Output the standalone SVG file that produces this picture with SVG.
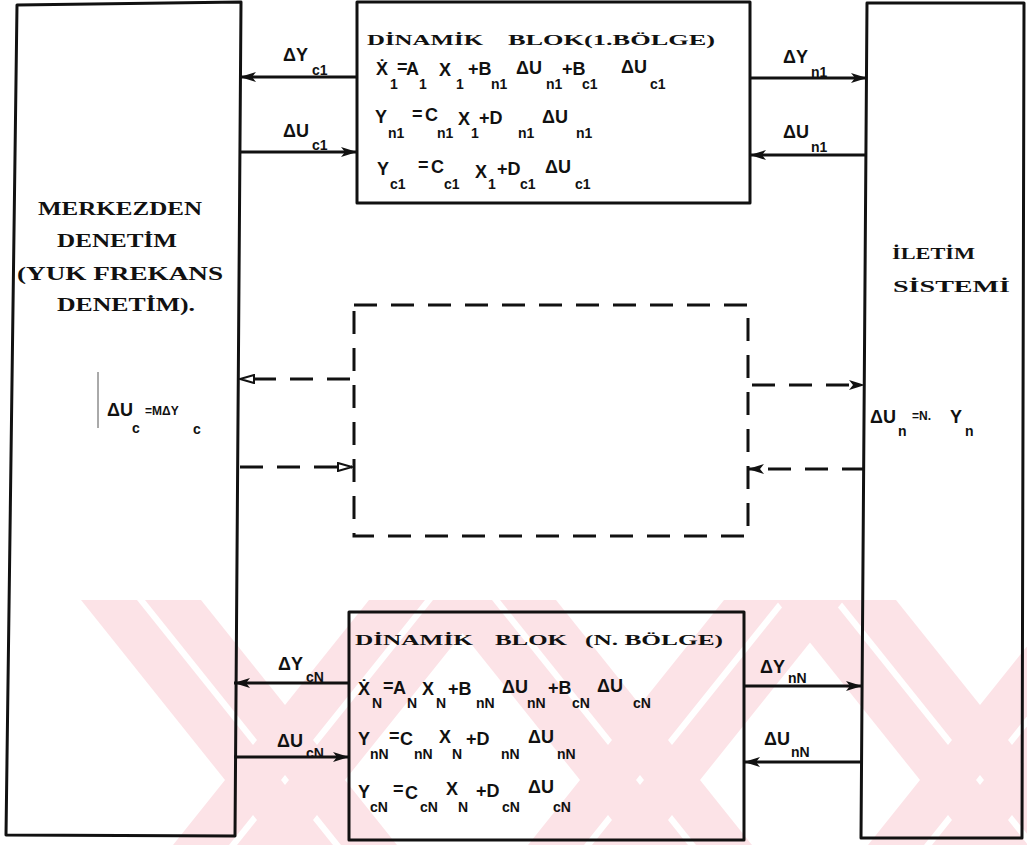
<svg xmlns="http://www.w3.org/2000/svg" width="1027" height="845" viewBox="0 0 1027 845">
<style>
.box{fill:none;stroke:#111;stroke-width:3;stroke-linejoin:round}
.ser{font-family:"Liberation Serif",serif;font-weight:bold;fill:#111}
.eq{font-family:"Liberation Sans",sans-serif;font-weight:bold;fill:#111;font-size:18px}
.sb{font-size:14px}
.ln{stroke:#111;stroke-width:3;fill:none}
.dash{stroke-dasharray:23 14}
.wm polygon{fill:#fce3e7}
</style>
<defs>
<marker id="hf" viewBox="0 0 16 10" refX="16" refY="5" markerWidth="16" markerHeight="10" markerUnits="userSpaceOnUse" orient="auto"><path d="M0,0 L16,5 L0,10 L4,5 Z" fill="#111"/></marker>
<marker id="ho" viewBox="0 0 16 10" refX="15" refY="5" markerWidth="16" markerHeight="10" markerUnits="userSpaceOnUse" orient="auto"><path d="M1,1 L15,5 L1,9 Z" fill="#fff" stroke="#111" stroke-width="2"/></marker>
</defs>
<rect width="1027" height="845" fill="#fff"/>
<g id="watermark" class="wm">
<polygon points="81,600 137,600 333,845 277,845"/>
<polygon points="145,600 201,600 397,845 341,845"/>
<polygon points="433,600 489,600 293,845 237,845"/>
<polygon points="369,600 425,600 229,845 173,845"/>
<polygon points="436,600 492,600 688,845 632,845"/>
<polygon points="500,600 556,600 752,845 696,845"/>
<polygon points="788,600 844,600 648,845 592,845"/>
<polygon points="724,600 780,600 584,845 528,845"/>
<polygon points="776,600 832,600 1028,845 972,845"/>
<polygon points="840,600 896,600 1092,845 1036,845"/>
<polygon points="1128,600 1184,600 988,845 932,845"/>
<polygon points="1064,600 1120,600 924,845 868,845"/>
</g>
<g id="left-block">
<polygon class="box" points="17,5 241,2 235,836 6,835"/>
<text class="ser" x="38" y="215" font-size="19" textLength="164" lengthAdjust="spacingAndGlyphs">MERKEZDEN</text>
<text class="ser" x="57" y="247" font-size="19" textLength="120" lengthAdjust="spacingAndGlyphs">DENETİM</text>
<text class="ser" x="17" y="280" font-size="19" textLength="206" lengthAdjust="spacingAndGlyphs">(YUK FREKANS</text>
<text class="ser" x="57" y="311" font-size="19" textLength="138" lengthAdjust="spacingAndGlyphs">DENETİM).</text>
<line x1="98" y1="372" x2="98" y2="428" stroke="#555" stroke-width="1"/>
<text class="eq"><tspan x="107" y="416">ΔU</tspan><tspan class="sb" x="132" y="433">c</tspan><tspan x="145" y="415" font-size="12">=MΔY</tspan><tspan class="sb" x="193" y="434">c</tspan></text>
</g>
<g id="top-block">
<rect class="box" x="357" y="2" width="393" height="201"/>
<text class="ser" x="367" y="45" font-size="15" textLength="116" lengthAdjust="spacingAndGlyphs">DİNAMİK</text>
<text class="ser" x="508" y="45" font-size="15" textLength="207" lengthAdjust="spacingAndGlyphs">BLOK(1.BÖLGE)</text>
<text class="eq"><tspan x="376" y="75">Ẋ</tspan><tspan class="sb" x="390" y="89">1</tspan><tspan x="397" y="73">=</tspan><tspan x="406" y="75">A</tspan><tspan class="sb" x="419" y="89">1</tspan><tspan x="439" y="76">X</tspan><tspan class="sb" x="456" y="89">1</tspan><tspan x="468" y="75">+B</tspan><tspan class="sb" x="491" y="89">n1</tspan><tspan x="516" y="74">ΔU</tspan><tspan class="sb" x="546" y="89">n1</tspan><tspan x="562" y="75">+B</tspan><tspan class="sb" x="582" y="89">c1</tspan><tspan x="621" y="73">ΔU</tspan><tspan class="sb" x="650" y="89">c1</tspan></text>
<text class="eq"><tspan x="375" y="123">Y</tspan><tspan class="sb" x="388" y="138">n1</tspan><tspan x="412" y="120">=</tspan><tspan x="425" y="121">C</tspan><tspan class="sb" x="437" y="138">n1</tspan><tspan x="458" y="125">X</tspan><tspan class="sb" x="471" y="138">1</tspan><tspan x="479" y="124">+D</tspan><tspan class="sb" x="518" y="138">n1</tspan><tspan x="542" y="123">ΔU</tspan><tspan class="sb" x="576" y="138">n1</tspan></text>
<text class="eq"><tspan x="377" y="175">Y</tspan><tspan class="sb" x="390" y="189">c1</tspan><tspan x="418" y="171">=</tspan><tspan x="431" y="173">C</tspan><tspan class="sb" x="444" y="189">c1</tspan><tspan x="475" y="178">X</tspan><tspan class="sb" x="488" y="189">1</tspan><tspan x="497" y="175">+D</tspan><tspan class="sb" x="520" y="189">c1</tspan><tspan x="545" y="173">ΔU</tspan><tspan class="sb" x="575" y="189">c1</tspan></text>
</g>
<g id="right-block">
<polygon class="box" points="867,3 1024,3 1022,838 861,838"/>
<text class="ser" x="892" y="259" font-size="16" textLength="83" lengthAdjust="spacingAndGlyphs">İLETİM</text>
<text class="ser" x="893" y="292" font-size="16" textLength="117" lengthAdjust="spacingAndGlyphs">SİSTEMİ</text>
<text class="eq"><tspan x="870" y="423">ΔU</tspan><tspan class="sb" x="898" y="436">n</tspan><tspan x="912" y="420" font-size="12">=N.</tspan><tspan x="950" y="423">Y</tspan><tspan class="sb" x="965" y="436">n</tspan></text>
</g>
<g id="middle-block">
<rect class="ln dash" x="354" y="305" width="394" height="231"/>
</g>
<g id="bottom-block">
<rect class="box" x="349" y="612" width="395" height="228"/>
<text class="ser" x="355" y="645" font-size="15" textLength="118" lengthAdjust="spacingAndGlyphs">DİNAMİK</text>
<text class="ser" x="495" y="645" font-size="15" textLength="72" lengthAdjust="spacingAndGlyphs">BLOK</text>
<text class="ser" x="585" y="645" font-size="15" textLength="138" lengthAdjust="spacingAndGlyphs">(N. BÖLGE)</text>
<text class="eq"><tspan x="358" y="695">Ẋ</tspan><tspan class="sb" x="372" y="708">N</tspan><tspan x="383" y="692">=</tspan><tspan x="393" y="694">A</tspan><tspan class="sb" x="407" y="708">N</tspan><tspan x="422" y="695">X</tspan><tspan class="sb" x="436" y="708">N</tspan><tspan x="448" y="695">+B</tspan><tspan class="sb" x="476" y="708">nN</tspan><tspan x="502" y="693">ΔU</tspan><tspan class="sb" x="527" y="708">nN</tspan><tspan x="548" y="694">+B</tspan><tspan class="sb" x="572" y="708">cN</tspan><tspan x="597" y="692">ΔU</tspan><tspan class="sb" x="633" y="708">cN</tspan></text>
<text class="eq"><tspan x="358" y="745">Y</tspan><tspan class="sb" x="370" y="759">nN</tspan><tspan x="389" y="742">=</tspan><tspan x="400" y="745">C</tspan><tspan class="sb" x="414" y="759">nN</tspan><tspan x="439" y="743">X</tspan><tspan class="sb" x="452" y="759">N</tspan><tspan x="466" y="745">+D</tspan><tspan class="sb" x="501" y="759">nN</tspan><tspan x="528" y="743">ΔU</tspan><tspan class="sb" x="557" y="759">nN</tspan></text>
<text class="eq"><tspan x="358" y="798">Y</tspan><tspan class="sb" x="370" y="812">cN</tspan><tspan x="393" y="795">=</tspan><tspan x="405" y="799">C</tspan><tspan class="sb" x="420" y="812">cN</tspan><tspan x="446" y="795">X</tspan><tspan class="sb" x="458" y="812">N</tspan><tspan x="476" y="797">+D</tspan><tspan class="sb" x="502" y="812">cN</tspan><tspan x="528" y="793">ΔU</tspan><tspan class="sb" x="553" y="812">cN</tspan></text>
</g>
<g id="connectors">
<line class="ln" x1="357" y1="77" x2="240" y2="77" marker-end="url(#hf)"/>
<line class="ln" x1="240" y1="152" x2="357" y2="152" marker-end="url(#hf)"/>
<line class="ln" x1="750" y1="78" x2="867" y2="78" marker-end="url(#hf)"/>
<line class="ln" x1="867" y1="155" x2="750" y2="155" marker-end="url(#hf)"/>
<line class="ln" x1="349" y1="683" x2="234" y2="683" marker-end="url(#hf)"/>
<line class="ln" x1="234" y1="757" x2="349" y2="757" marker-end="url(#hf)"/>
<line class="ln" x1="744" y1="686" x2="862" y2="686" marker-end="url(#hf)"/>
<line class="ln" x1="862" y1="762" x2="744" y2="762" marker-end="url(#hf)"/>
<line class="ln dash" x1="350" y1="379" x2="240" y2="379" marker-end="url(#ho)"/>
<line class="ln dash" x1="240" y1="467" x2="352" y2="467" marker-end="url(#ho)"/>
<line class="ln dash" x1="752" y1="385" x2="865" y2="385" marker-end="url(#hf)"/>
<line class="ln dash" x1="865" y1="469" x2="748" y2="469" marker-end="url(#hf)"/>
</g>
<g id="labels">
<text class="eq"><tspan x="283" y="61">ΔY</tspan><tspan class="sb" x="312" y="75">c1</tspan></text>
<text class="eq"><tspan x="283" y="137">ΔU</tspan><tspan class="sb" x="312" y="150">c1</tspan></text>
<text class="eq"><tspan x="783" y="63">ΔY</tspan><tspan class="sb" x="811" y="77">n1</tspan></text>
<text class="eq"><tspan x="783" y="138">ΔU</tspan><tspan class="sb" x="811" y="152">n1</tspan></text>
<text class="eq"><tspan x="278" y="670">ΔY</tspan><tspan class="sb" x="306" y="682">cN</tspan></text>
<text class="eq"><tspan x="277" y="747">ΔU</tspan><tspan class="sb" x="306" y="758">cN</tspan></text>
<text class="eq"><tspan x="760" y="673">ΔY</tspan><tspan class="sb" x="788" y="683">nN</tspan></text>
<text class="eq"><tspan x="764" y="745">ΔU</tspan><tspan class="sb" x="791" y="757">nN</tspan></text>
</g>
</svg>
